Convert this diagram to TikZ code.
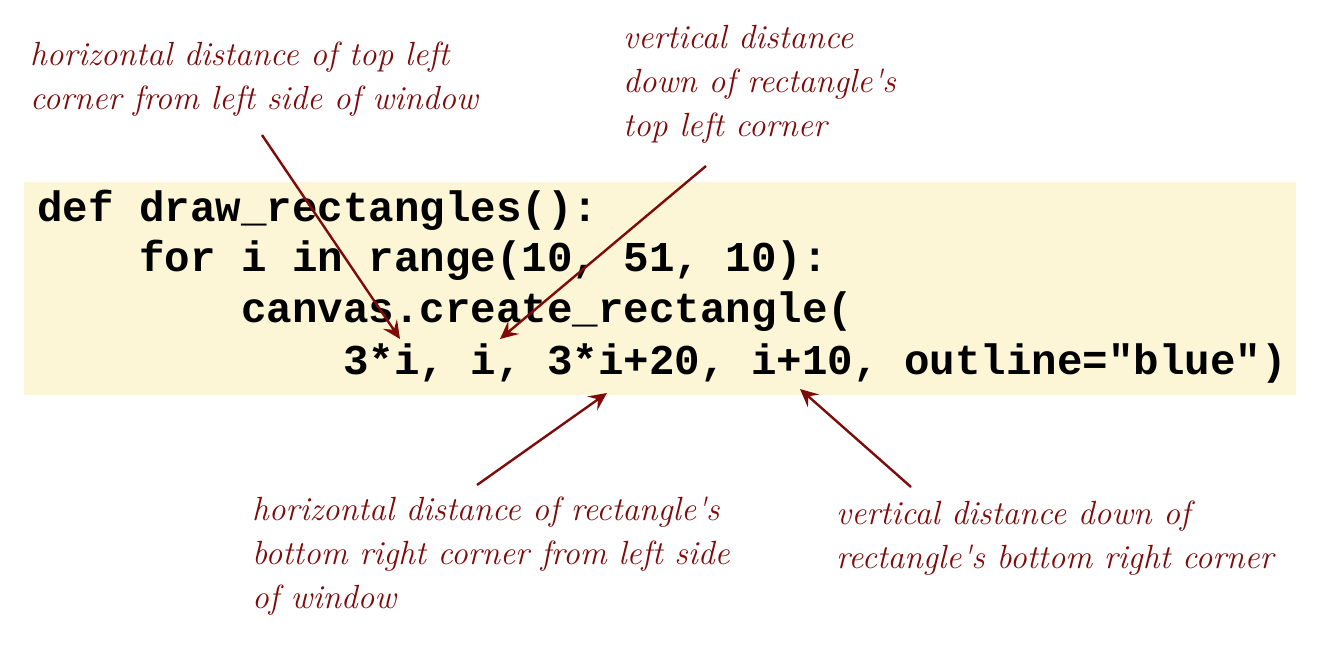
\documentclass[tikz,border=0pt]{standalone}
\usepackage{fontspec}
\newfontfamily\codefont{Liberation Mono}
\usetikzlibrary{arrows.meta}
\definecolor{annot}{HTML}{7F0A0A}
\definecolor{codebg}{HTML}{FDF6D6}
\tikzset{
  note/.style={anchor=base west, inner sep=0pt, text=annot, font=\fontsize{33.5}{44}\selectfont\itshape, align=left},
  code/.style={anchor=base west, inner sep=0pt, font=\fontsize{42.5}{51}\selectfont\codefont\bfseries},
  pointer/.style={draw=annot, line width=2.4pt, -{Stealth[length=18pt,width=17pt,inset=7pt]}}
}
\begin{document}
\begin{tikzpicture}[x=1pt,y=-1pt]
\useasboundingbox (0,0) rectangle (1328,668);
\fill[codebg] (24,182) rectangle (1296,395);
\node[code] (l1) at (37,222) {def draw\_rectangles():};
\node[code] (l2) at (37,272) {\ \ \ \ for i in range(10, 51, 10):};
\node[code] (l3) at (37,323) {\ \ \ \ \ \ \ \ canvas.create\_rectangle(};
\node[code] (l4) at (37,374) {\ \ \ \ \ \ \ \ \ \ \ \ 3*i, i, 3*i+20, i+10, outline="blue")};
\node[note] (n1) at (30,110) {horizontal distance of top left\\corner from left side of window};
\node[note] (n2) at (623,137) {vertical distance\\down of rectangle\textquotesingle s\\top left corner};
\node[note] (n3) at (252,608) {horizontal distance of rectangle\textquotesingle s\\bottom right corner from left side\\of window};
\node[note] (n4) at (836,568) {vertical distance down of\\rectangle\textquotesingle s bottom right corner};
\coordinate (a1s) at (262,135); \coordinate (a1e) at (400,339);
\coordinate (a2s) at (706,166); \coordinate (a2e) at (500,339);
\coordinate (a3s) at (477,485); \coordinate (a3e) at (607,393);
\coordinate (a4s) at (911,487); \coordinate (a4e) at (800,389);
\draw[pointer] (a1s) -- (a1e);
\draw[pointer] (a2s) -- (a2e);
\draw[pointer] (a3s) -- (a3e);
\draw[pointer] (a4s) -- (a4e);
\end{tikzpicture}
\end{document}
